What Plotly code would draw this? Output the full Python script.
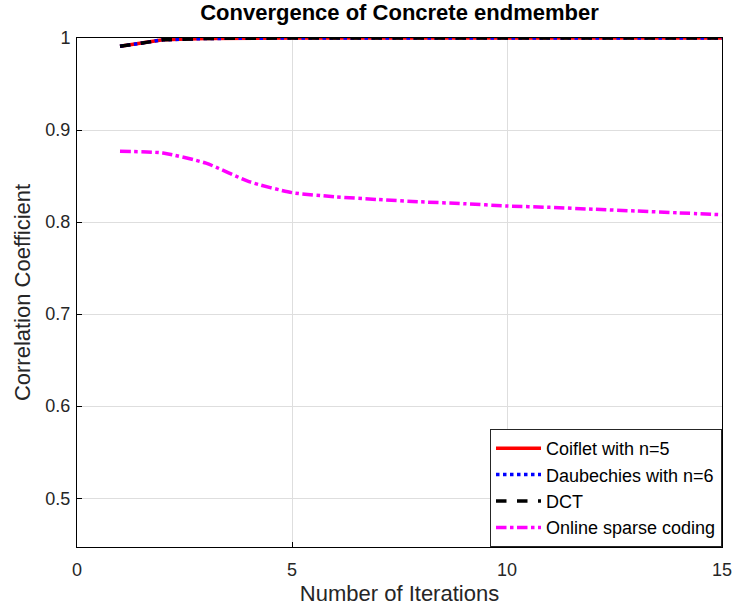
import plotly.graph_objects as go

iterations = list(range(1, 16))
coiflet = [0.991, 0.998, 0.9995, 1.0, 1.0, 1.0, 1.0, 1.0, 1.0, 1.0, 1.0, 1.0, 1.0, 1.0, 1.0]
daubechies = [0.991, 0.998, 0.9995, 1.0, 1.0, 1.0, 1.0, 1.0, 1.0, 1.0, 1.0, 1.0, 1.0, 1.0, 1.0]
dct = [0.991, 0.998, 0.9995, 1.0, 1.0, 1.0, 1.0, 1.0, 1.0, 1.0, 1.0, 1.0, 1.0, 1.0, 1.0]
online = [0.877, 0.875, 0.864, 0.844, 0.832, 0.8275, 0.8245, 0.822, 0.820, 0.8175, 0.816, 0.814, 0.812, 0.810, 0.808]

font = "Arial, Liberation Sans, sans-serif"

fig = go.Figure()
fig.add_trace(go.Scatter(x=iterations, y=coiflet, mode="lines", name="Coiflet with n=5",
                         line=dict(color="#ff0000", width=3.5)))
fig.add_trace(go.Scatter(x=iterations, y=daubechies, mode="lines", name="Daubechies with n=6",
                         line=dict(color="#0000ff", width=3.5, dash="dot")))
fig.add_trace(go.Scatter(x=iterations, y=dct, mode="lines", name="DCT",
                         line=dict(color="#000000", width=3.5, dash="dash")))
fig.add_trace(go.Scatter(x=iterations, y=online, mode="lines", name="Online sparse coding",
                         line=dict(color="#ff00ff", width=3.5, dash="dashdot", shape="spline", smoothing=0.6)))

axis_common = dict(showline=True, linecolor="black", linewidth=1, mirror=True,
                   ticks="inside", ticklen=5, tickcolor="black", automargin=False,
                   showgrid=True, gridcolor="#dedede", gridwidth=1, zeroline=False,
                   tickfont=dict(family=font, size=18, color="#262626"))

fig.update_layout(
    width=735, height=616,
    margin=dict(l=77, r=13, t=38, b=69),
    paper_bgcolor="white", plot_bgcolor="white",
    title=dict(text="<b>Convergence of Concrete endmember</b>", x=0.5435, xanchor="center",
               yref="container", y=0.992, yanchor="top",
               font=dict(family=font, size=22, color="black")),
    xaxis=dict(range=[0, 15], tickvals=[0, 5, 10, 15], ticklabelstandoff=6,
               title=dict(text="Number of Iterations", font=dict(family=font, size=22, color="#262626"), standoff=7),
               **axis_common),
    yaxis=dict(range=[0.447, 1.0], tickvals=[0.5, 0.6, 0.7, 0.8, 0.9, 1.0],
               ticktext=["0.5", "0.6", "0.7", "0.8", "0.9", "1"], ticklabelstandoff=2,
               title=dict(text="Correlation Coefficient", font=dict(family=font, size=22, color="#262626"), standoff=8),
               **axis_common),
    legend=dict(x=1.0, y=0.0, xanchor="right", yanchor="bottom",
                bgcolor="white", bordercolor="#262626", borderwidth=1,
                font=dict(family=font, size=18, color="black"),
                tracegroupgap=0, itemwidth=45),
    showlegend=True,
)

fig.write_html("out.html")
